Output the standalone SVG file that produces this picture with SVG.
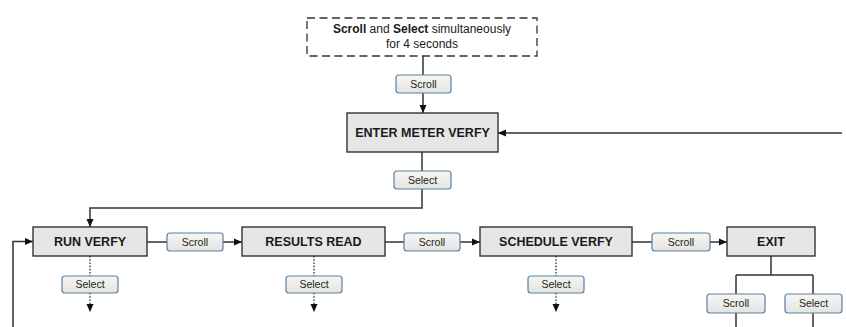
<svg xmlns="http://www.w3.org/2000/svg" width="846" height="327" viewBox="0 0 846 327">
<style>
.node{fill:#e6e6e6;stroke:#333;stroke-width:1.4}
.dash{fill:#fff;stroke:#333;stroke-width:1.3;stroke-dasharray:8 4.5}
.btn{fill:url(#bg);stroke:#5b7fa6;stroke-width:1.2}
.nt{font-family:"Liberation Sans",Arial,sans-serif;font-weight:bold;font-size:12.5px;fill:#1a1a1a;text-anchor:middle}
.bt{font-family:"Liberation Sans",Arial,sans-serif;font-size:10.5px;fill:#222;text-anchor:middle}
.dt{font-family:"Liberation Sans",Arial,sans-serif;font-size:12px;fill:#1a1a1a;text-anchor:middle}
.c{fill:none;stroke:#333;stroke-width:1.5}
.d{fill:none;stroke:#333;stroke-width:1.3;stroke-dasharray:1.6 1.6}
</style>
<defs>
<linearGradient id="bg" x1="0" y1="0" x2="0" y2="1"><stop offset="0" stop-color="#f6f6f3"/><stop offset="1" stop-color="#e4e4df"/></linearGradient>
<marker id="ah" markerUnits="userSpaceOnUse" markerWidth="8" markerHeight="8" refX="8" refY="4" orient="auto"><path d="M0,0.5 L8,4 L0,7.5 z" fill="#111"/></marker>
</defs>
<g id="connectors">
<path class="c" d="M423,56 V75"/>
<path class="c" d="M423,93 V113" marker-end="url(#ah)"/>
<path class="c" d="M842,133 H498" marker-end="url(#ah)"/>
<path class="c" d="M422,152 V171"/>
<path class="c" d="M422,189 V208 H90 V227" marker-end="url(#ah)"/>
<path class="c" d="M13,327 V241.5 H33" marker-end="url(#ah)"/>
<path class="c" d="M147,242 H167"/>
<path class="c" d="M223,242 H242" marker-end="url(#ah)"/>
<path class="c" d="M385,242 H404"/>
<path class="c" d="M460,242 H480" marker-end="url(#ah)"/>
<path class="c" d="M632,242 H652"/>
<path class="c" d="M710,242 H727" marker-end="url(#ah)"/>
<path class="c" d="M771,256 V275 M736,275 H813 M736,275 V294 M813,275 V294 M736,313 V327 M813,313 V327"/>
<path class="d" d="M90,256 V276"/>
<path class="d" d="M90,293 V312" marker-end="url(#ah)"/>
<path class="d" d="M314,256 V276"/>
<path class="d" d="M314,293 V312" marker-end="url(#ah)"/>
<path class="d" d="M556,256 V276"/>
<path class="d" d="M556,293 V312" marker-end="url(#ah)"/>
</g>
<g id="start">
<rect class="dash" x="307" y="18" width="230" height="38"/>
<text class="dt" x="422" y="33"><tspan font-weight="bold">Scroll</tspan> and <tspan font-weight="bold">Select</tspan> simultaneously</text>
<text class="dt" x="422" y="48">for 4 seconds</text>
</g>
<g id="btn-scroll-top"><rect class="btn" x="396" y="75" width="55" height="18" rx="3"/><text class="bt" x="423.5" y="87.5">Scroll</text></g>
<g id="enter"><rect class="node" x="347" y="113" width="151" height="39"/><text class="nt" x="422.5" y="137">ENTER METER VERFY</text></g>
<g id="btn-select-top"><rect class="btn" x="394" y="171" width="57" height="18" rx="3"/><text class="bt" x="422.5" y="183.5">Select</text></g>
<g id="run"><rect class="node" x="33" y="227" width="114" height="29"/><text class="nt" x="90" y="246">RUN VERFY</text></g>
<g id="btn-scroll-1"><rect class="btn" x="167" y="233" width="56" height="18" rx="3"/><text class="bt" x="195" y="245.5">Scroll</text></g>
<g id="results"><rect class="node" x="242" y="227" width="143" height="29"/><text class="nt" x="313.5" y="246">RESULTS READ</text></g>
<g id="btn-scroll-2"><rect class="btn" x="404" y="233" width="56" height="18" rx="3"/><text class="bt" x="432" y="245.5">Scroll</text></g>
<g id="schedule"><rect class="node" x="480" y="227" width="152" height="29"/><text class="nt" x="556" y="246">SCHEDULE VERFY</text></g>
<g id="btn-scroll-3"><rect class="btn" x="652" y="233" width="58" height="18" rx="3"/><text class="bt" x="681" y="245.5">Scroll</text></g>
<g id="exit"><rect class="node" x="727" y="227" width="88" height="29"/><text class="nt" x="771" y="246">EXIT</text></g>
<g id="btn-select-run"><rect class="btn" x="62" y="276" width="56" height="17" rx="3"/><text class="bt" x="90" y="288">Select</text></g>
<g id="btn-select-results"><rect class="btn" x="286" y="276" width="56" height="17" rx="3"/><text class="bt" x="314" y="288">Select</text></g>
<g id="btn-select-schedule"><rect class="btn" x="528" y="276" width="56" height="17" rx="3"/><text class="bt" x="556" y="288">Select</text></g>
<g id="btn-scroll-exit"><rect class="btn" x="707" y="294" width="58" height="19" rx="3"/><text class="bt" x="736" y="307">Scroll</text></g>
<g id="btn-select-exit"><rect class="btn" x="785" y="294" width="57" height="19" rx="3"/><text class="bt" x="813.5" y="307">Select</text></g>
</svg>
